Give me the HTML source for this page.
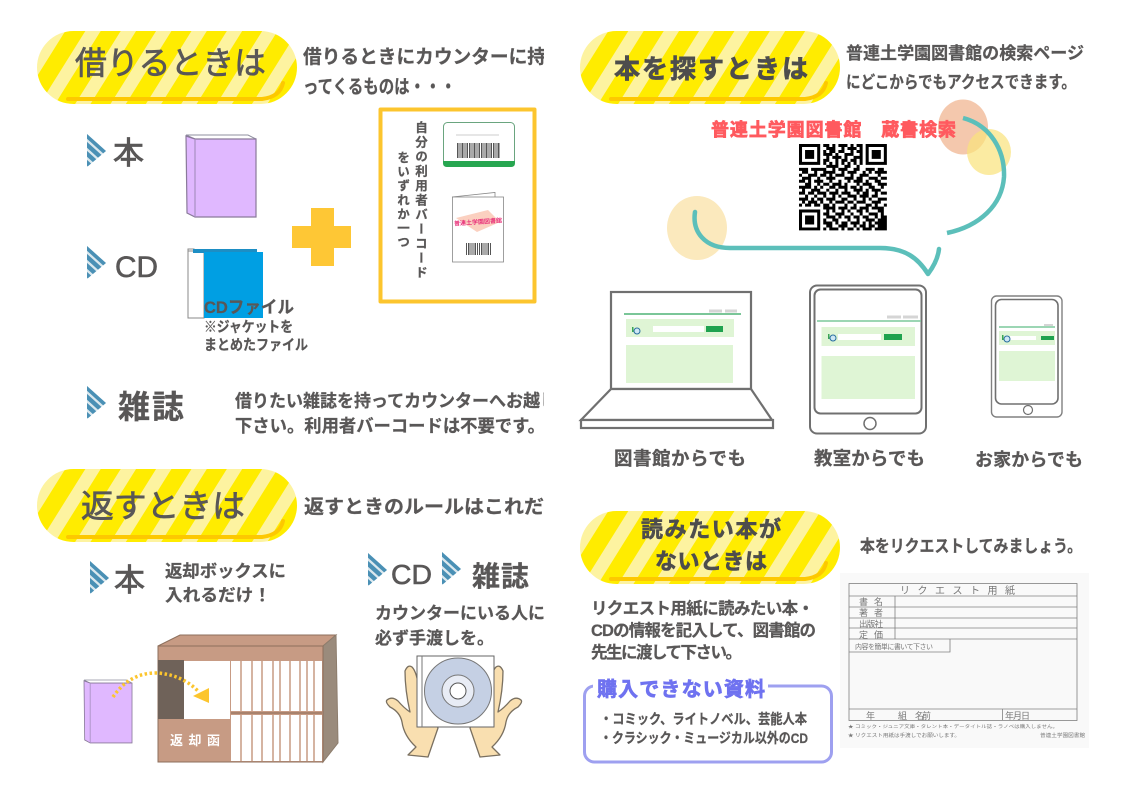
<!DOCTYPE html>
<html lang="ja">
<head>
<meta charset="utf-8">
<style>
html,body{margin:0;padding:0;background:#fff;width:1123px;height:794px;overflow:hidden}
svg{display:block;filter:blur(.3px)}
text{font-family:"Liberation Sans","Noto Sans CJK JP",sans-serif;fill:#595757}
.b{font-weight:700;stroke:#595757;stroke-width:.25}
.f text,text.f{fill:#777}
</style>
</head>
<body>
<svg width="1123" height="794" viewBox="0 0 1123 794" xmlns="http://www.w3.org/2000/svg">
<defs>
<pattern id="st" width="30" height="10" patternUnits="userSpaceOnUse" patternTransform="rotate(32)">
<rect width="30" height="10" fill="#ffec00"/><rect x="11" width="13" height="10" fill="#fdf3a0"/>
</pattern>
<clipPath id="cv"><polygon points="0,0 19,17 0,33"/></clipPath>
<clipPath id="lc"><rect x="0" y="0" width="544" height="794"/></clipPath>
<g id="chev">
<g clip-path="url(#cv)">
<rect width="19" height="33" fill="#dbe8ee"/>
<g stroke="#4a90b5" stroke-width="4.4" fill="none">
<path d="M-2 0L19 19"/><path d="M-2 9L19 28"/><path d="M-2 18L19 37"/><path d="M-2 27L19 46"/>
</g>
</g>
</g>
<g id="book">
<path d="M186 135H248L256 139H195Z" fill="#fff" stroke="#8f8f9f"/>
<path d="M186 136L195 139H256V217H195L187 213Z" fill="#e0b8ff" stroke="#8a7a9a" stroke-width="1.2"/>
<path d="M195 139V217" stroke="#a78fc0" stroke-width="1.2"/>
</g>
<g id="pill">
<rect x="0" y="0" width="260" height="73" rx="36.5" fill="url(#st)"/>
<path d="M31 68H225Q243 66 246 52" fill="none" stroke="#fdc800" stroke-width="4" stroke-linecap="round"/>
</g>
<g id="ico">
<rect x="0" y="-3" width="1.5" height="5" fill="#3aa655"/>
<circle cx="5" cy="1" r="3" fill="#cfe8f5" stroke="#2a6f9f"/>
</g>
</defs>

<rect width="1123" height="794" fill="#fff"/>

<!-- 借りるときは -->
<use href="#pill" x="37" y="31"/>
<text x="75" y="74" font-size="32" textLength="191" lengthAdjust="spacingAndGlyphs" stroke="#595757" stroke-width=".7">借りるときは</text>
<g clip-path="url(#lc)">
<text class="b" x="303" y="63" font-size="19" textLength="243" lengthAdjust="spacingAndGlyphs">借りるときにカウンターに持</text>
<text class="b" x="303" y="93" font-size="19" textLength="153" lengthAdjust="spacingAndGlyphs">ってくるものは・・・</text>
<text class="b" x="235" y="407" font-size="17.5" textLength="322" lengthAdjust="spacingAndGlyphs">借りたい雑誌を持ってカウンターへお越し</text>
<text class="b" x="235" y="432" font-size="17.5" textLength="310" lengthAdjust="spacingAndGlyphs">下さい。利用者バーコードは不要です。</text>
</g>

<use href="#chev" x="87" y="134"/>
<text x="113" y="164" font-size="31" stroke="#595757" stroke-width=".8">本</text>
<use href="#book"/>
<use href="#chev" x="87" y="246"/>
<text x="115" y="277" font-size="30" textLength="43" lengthAdjust="spacingAndGlyphs" stroke="#595757" stroke-width=".6">CD</text>
<path d="M188 249H194V318H188Z" fill="#fff" stroke="#888"/>
<rect x="188" y="251" width="16" height="67" fill="#fff" stroke="#888"/>
<rect x="193" y="249" width="64" height="4" fill="#1d8ec4"/>
<rect x="204" y="252" width="59" height="66" fill="#009fe3"/>
<text class="b" x="204" y="313" font-size="17" textLength="90" lengthAdjust="spacingAndGlyphs">CDファイル</text>
<text class="b" x="204" y="332" font-size="14.5" textLength="89" lengthAdjust="spacingAndGlyphs">※ジャケットを</text>
<text class="b" x="204" y="350" font-size="14.5" textLength="104" lengthAdjust="spacingAndGlyphs">まとめたファイル</text>

<path d="M311 208H334V226H351V248H334V266H311V248H292V226H311Z" fill="#fec735"/>

<rect x="380.500" y="109.500" width="154" height="192" fill="#fff" stroke="#fcc52e" stroke-width="4" stroke-linejoin="round"/>
<text class="b" x="420" y="121" font-size="12.5" style="writing-mode:vertical-rl;letter-spacing:2px">自分の利用者バーコード</text>
<text class="b" x="402" y="151" font-size="12.5" style="writing-mode:vertical-rl;letter-spacing:1.6px">をいずれか一つ</text>
<rect x="443.500" y="122.500" width="71" height="44" rx="4" fill="#fff" stroke="#6aa57f"/>
<path d="M443 161H515V163Q515 167 511 167H447Q443 167 443 163Z" fill="#27a650"/>
<path d="M456 135H499" stroke="#bbb" stroke-width=".8"/>
<path d="M457 150.500H500" stroke="#555" stroke-width="15" stroke-dasharray="1.500 1 1 1 2 1 1 1 1.500 1"/>
<path d="M452 197L495 192.500V197" fill="none" stroke="#888" stroke-width=".8"/>
<rect x="452.500" y="197" width="51" height="65" fill="#fff" stroke="#888" stroke-width=".8"/>
<path d="M456 218L488 210L500 222L477 232Z" fill="#fbd0c0"/>
<text x="454" y="224" font-size="6" font-weight="700" style="fill:#e8327a" textLength="48" lengthAdjust="spacingAndGlyphs" transform="rotate(-4 478 222)">普連土学園図書館</text>
<path d="M466 249H491" stroke="#555" stroke-width="12" stroke-dasharray="1 1 1.500 1 1 1"/>

<!-- 雑誌 -->
<use href="#chev" x="87" y="386"/>
<text class="b" x="118" y="418" font-size="32" textLength="66">雑誌</text>

<!-- 返すときは -->
<use href="#pill" x="37" y="469"/>
<text x="81" y="517" font-size="32" textLength="164" lengthAdjust="spacingAndGlyphs" stroke="#595757" stroke-width=".7">返すときは</text>
<g clip-path="url(#lc)">
<text class="b" x="304" y="513" font-size="19" textLength="240" lengthAdjust="spacingAndGlyphs">返すときのルールはこれだ</text>
<text class="b" x="375" y="619" font-size="17" textLength="170" lengthAdjust="spacingAndGlyphs">カウンターにいる人に</text>
</g>
<use href="#chev" x="90" y="561"/>
<text x="114" y="591" font-size="31" stroke="#595757" stroke-width=".8">本</text>
<text class="b" x="165" y="577" font-size="17" textLength="121" lengthAdjust="spacingAndGlyphs">返却ボックスに</text>
<text class="b" x="165" y="601" font-size="17" textLength="106" lengthAdjust="spacingAndGlyphs">入れるだけ！</text>
<use href="#chev" x="368" y="553"/>
<text x="391" y="584" font-size="28" textLength="41" lengthAdjust="spacingAndGlyphs" stroke="#595757" stroke-width=".6">CD</text>
<use href="#chev" x="442" y="552"/>
<text class="b" x="472" y="586" font-size="28" textLength="57">雑誌</text>
<text class="b" x="375" y="644" font-size="17" textLength="119" lengthAdjust="spacingAndGlyphs">必ず手渡しを。</text>

<!-- shelf -->
<path d="M158 646L180 635H336L323 646Z" fill="#c79b84" stroke="#8d6f5c"/>
<path d="M323 646L336 635L338 743L323 762Z" fill="#9a8b7c" stroke="#8d7d6d"/>
<rect x="158" y="646" width="165" height="116" fill="#c79b84" stroke="#8d6f5c"/>
<rect x="158" y="660" width="26" height="59" fill="#6f6259"/>
<rect x="184" y="661" width="46" height="58" fill="#fff"/>
<rect x="231" y="661" width="91" height="50" fill="#fff"/>
<rect x="231" y="715" width="91" height="46" fill="#fff"/>
<g stroke="#c79b84" stroke-width="1.500">
<path d="M241 661V761M252 661V761M262 661V761M273 661V761M280 661V761M290 661V761M300 661V761M307 661V761M314 661V761"/>
</g>
<path d="M231 713H322" stroke="#9d7a65" stroke-width="1.500"/>
<text x="170" y="745" font-size="13" font-weight="700" textLength="50" style="fill:#fff">返却函</text>
<use href="#book" transform="translate(84 680) scale(.686 .768) translate(-186 -135)"/>
<path d="M113 697Q130 672 158 673Q182 675 198 691" fill="none" stroke="#fcc52e" stroke-width="3.500" stroke-dasharray="2.500 2.500"/>
<polygon points="209,688 209,703 193,696" fill="#fcc52e"/>

<!-- hands & CD -->
<g fill="#f9dfb0" stroke="#7a7060" stroke-width="1.300" stroke-linejoin="round">
<path d="M405 671Q408 664 412 667Q417 672 419 690L438 728L428 757L408 755L416 747Q404 736 402 722Q400 712 390 707Q385 702 387 700Q392 696 398 701Q404 708 410 712Q405 690 405 671Z"/>
<path transform="translate(908 0) scale(-1 1)" d="M405 671Q408 664 412 667Q417 672 419 690L438 728L428 757L408 755L416 747Q404 736 402 722Q400 712 390 707Q385 702 387 700Q392 696 398 701Q404 708 410 712Q405 690 405 671Z"/>
</g>
<rect x="417" y="656" width="77" height="71" fill="#fff" stroke="#666"/>
<path d="M422 656V727" stroke="#777"/>
<ellipse cx="458" cy="691" rx="33.500" ry="33" fill="#c5d0e4" stroke="#777"/>
<circle cx="458" cy="691" r="16" fill="#e8ecf5" stroke="#777"/>
<circle cx="458" cy="691" r="8" fill="#fff" stroke="#555"/>

<!-- 本を探すときは -->
<use href="#pill" x="580" y="31"/>
<text class="b" x="614" y="78" font-size="26" textLength="194" style="fill:#4d4d4d;stroke:#4d4d4d;stroke-width:.7">本を探すときは</text>
<text class="b" x="846" y="59" font-size="17" textLength="238" lengthAdjust="spacingAndGlyphs">普連土学園図書館の検索ページ</text>
<text class="b" x="846" y="88" font-size="17" textLength="230" lengthAdjust="spacingAndGlyphs">にどこからでもアクセスできます。</text>

<ellipse cx="963" cy="127" rx="25" ry="27.500" fill="#f3c2a4" opacity=".9"/>
<ellipse cx="989" cy="152" rx="22" ry="23" fill="#fae27a" opacity=".7"/>
<ellipse cx="697" cy="228" rx="30" ry="32" fill="#fbe9bd"/>
<path d="M963 118C990 125 1005 150 1004 177C1002 205 980 226 947 233" fill="none" stroke="#5cbfba" stroke-width="4.500"/>
<path d="M695 212C692 232 705 248 730 248H880C905 248 918 258 928 274C934 266 938 258 939 249" fill="none" stroke="#5cbfba" stroke-width="4.500" stroke-linecap="round" stroke-linejoin="round"/>

<text x="711" y="136" font-size="18" font-weight="700" textLength="245" style="fill:#ff5a5f;stroke:#ff5a5f;stroke-width:.7">普連土学園図書館　蔵書検索</text>

<g transform="translate(799 144) scale(3.03 2.98)">
<path d="M0 0h7v7h-7zM1 1v5h5v-5zM22 0h7v7h-7zM23 1v5h5v-5zM0 22h7v7h-7zM1 23v5h5v-5z" fill-rule="evenodd" fill="#000"/>
<path d="M2 2h3v3h-3zM24 2h3v3h-3zM2 24h3v3h-3z" fill="#000"/>
<path fill="none" stroke="#000" stroke-width="1" d="M8 .5h2M11 .5h1M13 .5h3M17 .5h1M19 .5h2M9 1.500h3M14 1.500h1M16 1.500h3M20 1.500h1M8 2.500h1M10 2.500h2M13 2.500h2M17 2.500h1M19 2.500h2M8 3.500h3M12 3.500h1M15 3.500h3M20 3.500h1M9 4.500h1M11 4.500h3M15 4.500h1M18 4.500h3M8 5.500h2M12 5.500h1M14 5.500h2M17 5.500h2M20 5.500h1M8 6.500h1M10 6.500h1M12 6.500h1M14 6.500h1M16 6.500h1M18 6.500h1M20 6.500h1M9 7.500h4M15 7.500h2M19 7.500h1M0 8.500h3M4 8.500h2M6 8.500h3M11 8.500h1M13 8.500h3M18 8.500h2M22 8.500h3M26 8.500h2M1 9.500h2M5 9.500h1M8 9.500h4M14 9.500h1M16 9.500h3M21 9.500h1M23 9.500h1M25 9.500h4M0 10.500h1M3 10.500h3M7 10.500h2M10 10.500h1M12 10.500h3M17 10.500h1M20 10.500h3M26 10.500h1M1 11.500h3M6 11.500h1M9 11.500h3M15 11.500h3M19 11.500h2M23 11.500h3M27 11.500h2M0 12.500h2M3 12.500h1M5 12.500h3M10 12.500h1M13 12.500h1M16 12.500h1M18 12.500h3M22 12.500h1M25 12.500h2M2 13.500h2M6 13.500h1M8 13.500h2M11 13.500h3M15 13.500h1M19 13.500h1M21 13.500h3M26 13.500h3M0 14.500h4M5 14.500h1M7 14.500h1M10 14.500h2M13 14.500h3M17 14.500h2M20 14.500h1M23 14.500h2M27 14.500h1M1 15.500h1M4 15.500h3M9 15.500h1M12 15.500h1M15 15.500h1M18 15.500h3M22 15.500h1M24 15.500h3M0 16.500h2M3 16.500h2M6 16.500h3M10 16.500h3M14 16.500h3M19 16.500h1M21 16.500h2M25 16.500h1M27 16.500h2M2 17.500h1M5 17.500h1M8 17.500h1M11 17.500h1M13 17.500h1M16 17.500h3M20 17.500h3M24 17.500h2M0 18.500h3M4 18.500h1M6 18.500h2M9 18.500h3M14 18.500h2M18 18.500h1M21 18.500h1M23 18.500h1M26 18.500h3M1 19.500h1M3 19.500h3M7 19.500h1M10 19.500h1M12 19.500h3M16 19.500h2M19 19.500h3M24 19.500h3M0 20.500h1M2 20.500h2M5 20.500h2M8 20.500h2M11 20.500h1M15 20.500h1M18 20.500h1M22 20.500h2M25 20.500h1M28 20.500h1M8 21.500h4M13 21.500h3M17 21.500h2M20 21.500h3M24 21.500h4M9 22.500h1M11 22.500h1M14 22.500h1M16 22.500h1M19 22.500h2M22 22.500h1M26 22.500h2M8 23.500h2M12 23.500h3M17 23.500h1M20 23.500h1M23 23.500h3M27 23.500h1M9 24.500h3M13 24.500h1M15 24.500h2M18 24.500h2M21 24.500h2M25 24.500h1M27 24.500h2M8 25.500h1M11 25.500h2M16 25.500h1M19 25.500h1M22 25.500h3M26 25.500h3M8 26.500h3M12 26.500h1M14 26.500h2M17 26.500h3M21 26.500h1M23 26.500h1M25 26.500h4M9 27.500h2M13 27.500h3M18 27.500h1M20 27.500h2M23 27.500h2M26 27.500h3M8 28.500h1M10 28.500h3M14 28.500h1M16 28.500h2M19 28.500h1M21 28.500h3M25 28.500h4"/>
</g>

<!-- laptop -->
<g fill="#fff" stroke="#707070" stroke-width="2.200">
<rect x="611" y="292" width="140" height="97"/>
<path d="M611 389H751L772 420H581Z"/>
<rect x="581" y="420" width="192" height="8"/>
</g>
<rect x="626" y="319" width="108" height="18" fill="#dff5d5"/>
<rect x="626" y="345" width="107" height="38" fill="#dff5d5"/>
<path d="M624 314H741" stroke="#2aa35a" stroke-width="1.200"/>
<path d="M709 311H722M725 311H737" stroke="#d5d5d5" stroke-width="3"/>
<rect x="653" y="326" width="51" height="6" fill="#fff"/>
<rect x="706" y="326" width="17" height="6" fill="#1fa24f"/>
<use href="#ico" x="632" y="330"/>

<!-- tablet -->
<rect x="810" y="285.500" width="116" height="148" rx="7" fill="#fff" stroke="#707070" stroke-width="2"/>
<rect x="814.500" y="289.500" width="107" height="124" rx="6" fill="#fff" stroke="#707070" stroke-width="2"/>
<circle cx="870" cy="423.500" r="6" fill="#fff" stroke="#707070" stroke-width="1.500"/>
<rect x="821.500" y="327" width="93.500" height="19" fill="#dff5d5"/>
<rect x="821.500" y="356" width="93.500" height="43" fill="#dff5d5"/>
<path d="M817 321H921" stroke="#7cc89c" stroke-width="1.600"/>
<path d="M887 317H901M903 317H918" stroke="#d5d5d5" stroke-width="3"/>
<rect x="838" y="334" width="43" height="6" fill="#fff"/>
<rect x="884" y="334" width="18" height="6" fill="#1fa24f"/>
<use href="#ico" x="828" y="337"/>

<!-- phone -->
<rect x="991.500" y="296" width="70.500" height="121" rx="5" fill="#fff" stroke="#808080" stroke-width="1.400"/>
<rect x="995.500" y="299.500" width="62.500" height="104.500" rx="6" fill="#fff" stroke="#707070" stroke-width="1.600"/>
<circle cx="1028" cy="410" r="4.500" fill="#fff" stroke="#707070" stroke-width="1.200"/>
<rect x="999" y="331" width="56" height="14" fill="#dff5d5"/>
<rect x="999" y="351" width="56" height="30" fill="#dff5d5"/>
<path d="M999 327H1055" stroke="#7cc89c" stroke-width="1.400"/>
<path d="M1044 325H1053" stroke="#d5d5d5" stroke-width="2"/>
<rect x="1010" y="336" width="26" height="4" fill="#fff"/>
<rect x="1041" y="336" width="13" height="4" fill="#1fa24f"/>
<use href="#ico" x="1002" y="338"/>

<text class="b" x="614" y="465" font-size="18.500" textLength="132">図書館からでも</text>
<text class="b" x="814" y="465" font-size="18.500" textLength="111">教室からでも</text>
<text class="b" x="975" y="466" font-size="18" textLength="108">お家からでも</text>

<!-- 読みたい本が -->
<use href="#pill" x="580" y="511"/>
<text class="b" x="641" y="537" font-size="22" textLength="140" style="fill:#4d4d4d;stroke:#4d4d4d;stroke-width:.6">読みたい本が</text>
<text class="b" x="655" y="569" font-size="22" textLength="112" style="fill:#4d4d4d;stroke:#4d4d4d;stroke-width:.6">ないときは</text>
<text class="b" x="860" y="552" font-size="17" textLength="222" lengthAdjust="spacingAndGlyphs">本をリクエストしてみましょう。</text>
<text class="b" x="591" y="614" font-size="16.500" textLength="223">リクエスト用紙に読みたい本・</text>
<text class="b" x="591" y="636" font-size="16.500" textLength="225">CDの情報を記入して、図書館の</text>
<text class="b" x="591" y="658" font-size="16.500" textLength="151">先生に渡して下さい。</text>

<rect x="584.500" y="686" width="247" height="76" rx="10" fill="#fff" stroke="#9ea0f0" stroke-width="3"/>
<rect x="593" y="680" width="175" height="12" fill="#fff"/>
<text x="597" y="696" font-size="20" font-weight="700" textLength="168" style="fill:#6f72f0;stroke:#6f72f0;stroke-width:.7">購入できない資料</text>
<text class="b" x="600" y="724" font-size="14" textLength="207" lengthAdjust="spacingAndGlyphs">・コミック、ライトノベル、芸能人本</text>
<text class="b" x="600" y="743" font-size="14" textLength="208" lengthAdjust="spacingAndGlyphs">・クラシック・ミュージカル以外のCD</text>

<!-- form -->
<rect x="840" y="573" width="249" height="175" fill="#f9f9f9"/>
<g fill="none" stroke="#808080" stroke-width=".8">
<rect x="849" y="583.500" width="228" height="137"/>
<path d="M849 596H1077M849 607H1077M849 618H1077M849 628H1077M849 639H1077M849 709H1077M895 596V639M950 639V652H849M1002.500 709V720"/>
</g>
<g class="f">
<text x="900" y="594" font-size="10" textLength="115">リクエスト用紙</text>
<text x="859" y="605" font-size="9" textLength="24">書 名</text>
<text x="859" y="616" font-size="9" textLength="24">著 者</text>
<text x="859" y="627" font-size="8.500" textLength="24">出版社</text>
<text x="859" y="638" font-size="9" textLength="24">定 価</text>
<text x="855" y="649" font-size="7" textLength="78">内容を簡単に書いて下さい</text>
<text x="866" y="719" font-size="9">年</text>
<text x="898" y="719" font-size="9">組</text>
<text x="915" y="719" font-size="9" textLength="16">名前</text>
<text x="1005" y="719" font-size="9" textLength="25">年月日</text>
<text x="848" y="728" font-size="4.500" textLength="210" lengthAdjust="spacingAndGlyphs">★ コミック・ジュニア文庫・タレント本・データイトル誌・ラノベは購入しません。</text>
<text x="848" y="737" font-size="5" textLength="112" lengthAdjust="spacingAndGlyphs">★ リクエスト用紙は手渡しでお願いします。</text>
<text x="1040" y="737" font-size="5" textLength="45" lengthAdjust="spacingAndGlyphs">普連土学園図書館</text>
</g>
</svg>
</body>
</html>
